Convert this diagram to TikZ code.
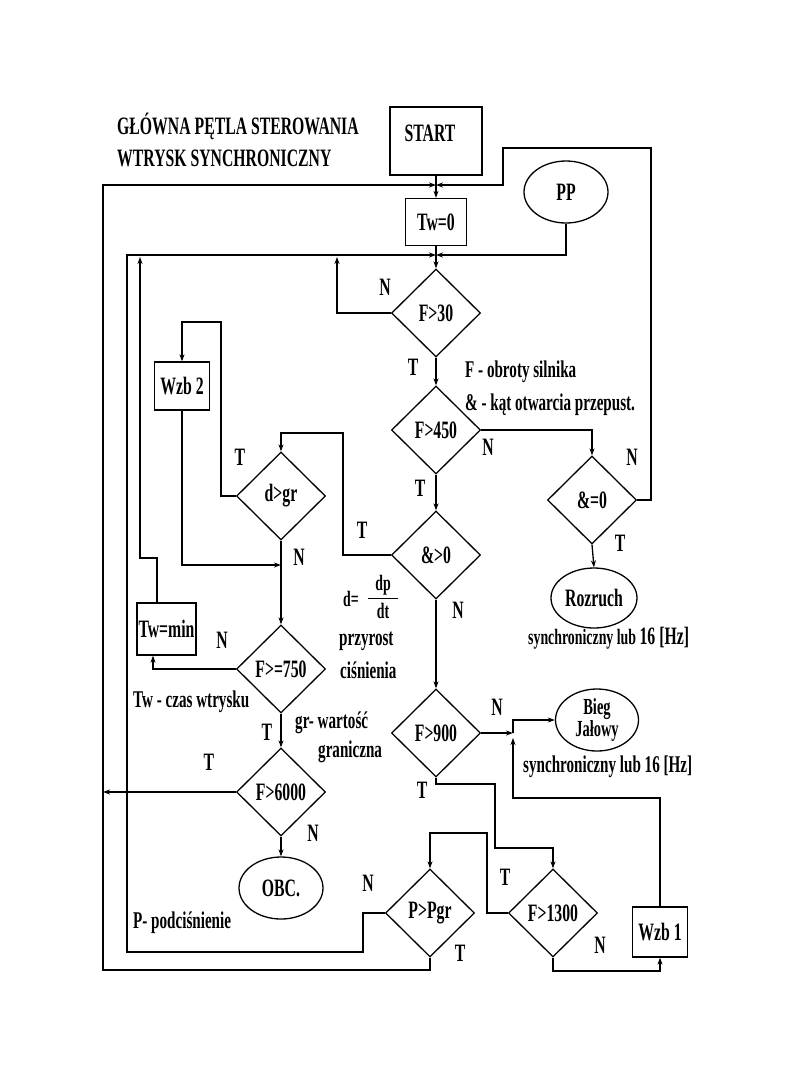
\documentclass[tikz,border=0pt]{standalone}
\usepackage{fontspec}
\setmainfont{Liberation Serif}[FakeStretch=0.63]
\usetikzlibrary{shapes.geometric,arrows.meta}
\begin{document}
\begin{tikzpicture}[x=1pt,y=-1pt,
  every node/.style={font=\fontsize{25}{26}\selectfont\bfseries},
  txt/.style={inner sep=0pt},
  small/.style={inner sep=0pt,font=\fontsize{24}{25}\selectfont\bfseries},
  frac/.style={inner sep=0pt,font=\fontsize{22}{22}\selectfont\bfseries},
  box/.style={draw,line width=1.3pt,rectangle,inner sep=0pt},
  dia/.style={draw,line width=1.3pt,diamond,minimum width=89pt,minimum height=88pt,inner sep=0pt},
  ell/.style={draw,line width=1.3pt,ellipse,minimum width=84pt,minimum height=62pt,inner sep=0pt,align=center},
  ln/.style={line width=1.3pt},
  arr/.style={ln,-{Stealth[length=7pt,width=5pt]}},
]
\useasboundingbox (0,0) rectangle (810,1080);
\fill[white] (0,0) rectangle (810,1080);

% titles
\node[txt,anchor=west] (t1) at (117,126) {GŁÓWNA PĘTLA STEROWANIA};
\node[txt,anchor=west] (t2) at (117,158) {WTRYSK SYNCHRONICZNY};

% nodes
\node[box,minimum width=92pt,minimum height=68pt] (start) at (436,141) {};
\node[txt] (starttxt) at (430,133) {START};
\node[box,minimum width=61pt,minimum height=47pt] (tw0) at (436,222) {Tw=0};
\node[ell] (pp) at (566,192) {PP};
\node[dia] (f30) at (436,313) {F>30};
\node[dia] (f450) at (436,430) {F>450};
\node[dia] (a0) at (436,555) {\&>0};
\node[dia] (az) at (592,500) {\&=0};
\node[ell,minimum width=86pt,minimum height=60pt] (roz) at (594,598) {Rozruch};
\node[dia] (dgr) at (281,496) {d>gr};
\node[box,minimum width=55pt,minimum height=48pt] (wzb2) at (182,386) {Wzb 2};
\node[dia] (f750) at (281,669) {F>=750};
\node[box,minimum width=59pt,minimum height=52pt] (twmin) at (166.5,629) {Tw=min};
\node[dia] (f6000) at (281,792) {F>6000};
\node[ell] (obc) at (281,888) {OBC.};
\node[dia] (f900) at (436,733) {F>900};
\node[ell,minimum width=83pt,font=\fontsize{23}{21}\selectfont\bfseries] (bieg) at (597,720) {Bieg\\Jałowy};
\node[dia] (f1300) at (553,913) {F>1300};
\node[dia] (pgr) at (430,913) {P>Pgr};
\node[box,minimum width=55pt,minimum height=50pt] (wzb1) at (660,932) {Wzb 1};

% junctions
\coordinate (j1) at (436,185);
\coordinate (j2) at (436,255);
\coordinate (j3) at (281,565);
\coordinate (j4) at (103,792);
\coordinate (j5) at (513,733);

% connectors
\draw[arr] (start.south) -- (tw0.north);
\draw[arr] (tw0.south) -- (f30.north);
\draw[arr] (pp.south) |- (j2);
\draw[arr] (pgr.west) -- (363,913) |- (127,952) |- (j2);
\draw[arr] ([xshift=-9.5pt]twmin.north) |- (140,558) -- (140,257);
\draw[arr] (f30.west) -| (337,257);
\draw[arr] (pgr.south) |- (103,970) |- (j1);
\draw[arr] (az.east) -- (651,500) |- (503,148) |- (j1);
\draw[arr] (f30.south) -- (f450.north);
\draw[arr] (f450.east) -| (az.north);
\draw[arr] (az.south) -- (roz.north);
\draw[arr] (f450.south) -- (a0.north);
\draw[arr] (a0.west) -| (343,433) -| (dgr.north);
\draw[arr] (dgr.west) -| (221,322) -| (wzb2.north);
\draw[arr] (wzb2.south) |- (j3);
\draw[arr] (dgr.south) -- (f750.north);
\draw[arr] (f750.west) -| ([xshift=-13.5pt]twmin.south);
\draw[arr] (f750.south) -- (f6000.north);
\draw[arr] (f6000.west) -- (j4);
\draw[arr] (f6000.south) -- (obc.north);
\draw[arr] (a0.south) -- (f900.north);
\draw[arr,line width=2pt] (f900.east) -- (j5);
\draw[arr] (j5) |- (bieg.west);
\draw[arr] (wzb1.north) |- (513,798) -- (513,738);
\draw[arr] (f900.south) |- (495,784) |- (553,848) -- (f1300.north);
\draw[arr] (f1300.west) -| (487,833) -| (pgr.north);
\draw[arr] (f1300.south) |- (660,971) -- (wzb1.south);

% T / N labels
\node[txt] (l1) at (385,287) {N};
\node[txt] (l2) at (413,367) {T};
\node[txt] (l3) at (488,447) {N};
\node[txt] (l4) at (632,457) {N};
\node[txt] (l5) at (620,543) {T};
\node[txt] (l6) at (420,488) {T};
\node[txt] (l7) at (458,610) {N};
\node[txt] (l8) at (362,530) {T};
\node[txt] (l9) at (240,457) {T};
\node[txt] (l10) at (299,557) {N};
\node[txt] (l11) at (222,640) {N};
\node[txt] (l12) at (267,732) {T};
\node[txt] (l13) at (209,762) {T};
\node[txt] (l14) at (313,833) {N};
\node[txt] (l15) at (368,883) {N};
\node[txt] (l16) at (460,953) {T};
\node[txt] (l17) at (422,790) {T};
\node[txt] (l18) at (497,707) {N};
\node[txt] (l19) at (505,877) {T};
\node[txt] (l20) at (600,945) {N};

% formula d = dp/dt
\node[frac,anchor=west] (deq) at (343,599) {d=};
\node[frac] (dp) at (383,585) {dp};
\node[frac] (dt) at (383,611) {dt};
\draw[line width=0.8pt] (368,598) -- (398,598);

% notes
\node[small,anchor=west] (n1) at (465,372) {F - obroty silnika};
\node[small,anchor=west] (n2) at (465,405) {\& - kąt otwarcia przepust.};
\node[small,anchor=west] (n3) at (528,638) {\fontsize{22}{23}\selectfont synchroniczny lub \fontsize{25}{26}\selectfont 16 [Hz]};
\node[small,anchor=west] (n4) at (523,767) {synchroniczny lub 16 [Hz]};
\node[small,anchor=west] (n5) at (133,702) {Tw - czas wtrysku};
\node[small,anchor=west] (n6) at (295,723) {gr- wartość};
\node[small,anchor=west] (n7) at (318,752) {graniczna};
\node[small,anchor=west] (n9) at (339,641) {przyrost};
\node[small,anchor=west] (n10) at (340,670) {ciśnienia};
\node[small,anchor=west] (n11) at (133,923) {P- podciśnienie};
\end{tikzpicture}
\end{document}
